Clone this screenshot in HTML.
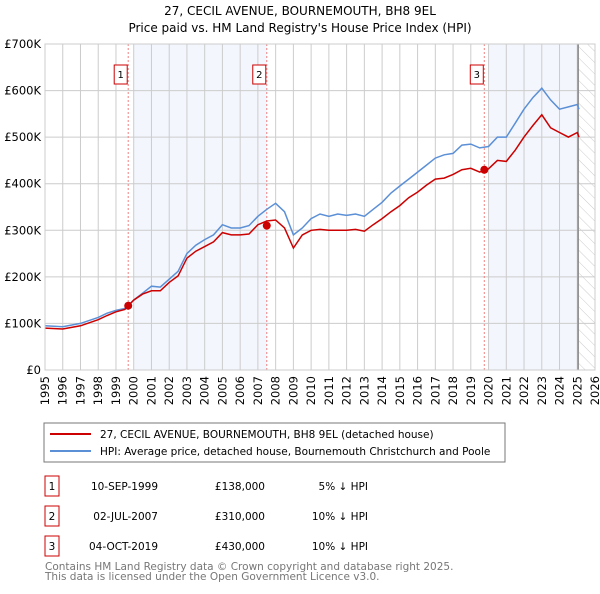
<!DOCTYPE html>
<html><head><meta charset="utf-8"><style>
body{margin:0;background:#fff;font-family:"DejaVu Sans","Liberation Sans",sans-serif;}
svg text{font-family:"DejaVu Sans","Liberation Sans",sans-serif;}
</style></head><body>
<svg id="c" width="600" height="590" xmlns="http://www.w3.org/2000/svg">
<text x="300" y="15" text-anchor="middle" font-size="12">27, CECIL AVENUE, BOURNEMOUTH, BH8 9EL</text>
<text x="300" y="32" text-anchor="middle" font-size="12">Price paid vs. HM Land Registry's House Price Index (HPI)</text>
<g id="plot"></g>
<rect x="44" y="423" width="461" height="39" fill="#fff" stroke="#777"/>
<line x1="50" y1="434" x2="91" y2="434" stroke="#cc0000" stroke-width="2"/>
<text x="100" y="438" font-size="10.5">27, CECIL AVENUE, BOURNEMOUTH, BH8 9EL (detached house)</text>
<line x1="50" y1="451" x2="91" y2="451" stroke="#5b8fd6" stroke-width="2"/>
<text x="100" y="455" font-size="10.5">HPI: Average price, detached house, Bournemouth Christchurch and Poole</text>
<g font-size="10.5" id="tbl"></g>
<text x="45" y="570" font-size="10.5" fill="#777">Contains HM Land Registry data © Crown copyright and database right 2025.</text>
<text x="45" y="580" font-size="10.5" fill="#777">This data is licensed under the Open Government Licence v3.0.</text>
</svg>
<script>
const hpiYears=[1995,1996,1997,1998,1998.5,1999,1999.5,2000,2000.5,2001,2001.5,2002,2002.5,2003,2003.5,2004,2004.5,2005,2005.5,2006,2006.5,2007,2007.5,2008,2008.5,2009,2009.5,2010,2010.5,2011,2011.5,2012,2012.5,2013,2013.5,2014,2014.5,2015,2015.5,2016,2016.5,2017,2017.5,2018,2018.5,2019,2019.5,2020,2020.5,2021,2021.5,2022,2022.5,2023,2023.5,2024,2024.5,2025,2025.1];
const hpiValues=[95,93,100,113,122,128,132,150,165,180,178,195,212,250,268,280,290,312,305,305,310,330,345,358,340,290,305,325,335,330,335,332,335,330,345,360,380,395,410,425,440,455,462,465,483,485,477,480,500,500,530,560,585,605,580,560,565,570,560];
const priceValues=[90,88,95,108,117,125,130,150,163,170,170,188,202,240,255,265,275,295,290,290,292,312,320,322,305,262,290,300,302,300,300,300,302,298,312,325,340,353,370,382,397,410,412,420,430,433,425,432,450,448,472,500,525,548,520,510,500,510,500];
const saleYears=[1999.69,2007.5,2019.76];
const salePrices=[138,310,430];
const saleLabels=["1","2","3"];
const saleDates=["10-SEP-1999","02-JUL-2007","04-OCT-2019"];
const salePriceText=["£138,000","£310,000","£430,000"];
const saleDiff=["5% ↓ HPI","10% ↓ HPI","10% ↓ HPI"];
const yTicks=[0,100,200,300,400,500,600,700];
const yTickLabels=["£0","£100K","£200K","£300K","£400K","£500K","£600K","£700K"];
const xTicks=[1995,1996,1997,1998,1999,2000,2001,2002,2003,2004,2005,2006,2007,2008,2009,2010,2011,2012,2013,2014,2015,2016,2017,2018,2019,2020,2021,2022,2023,2024,2025,2026];
const X0=45,X1=595,Y0=370,Y1=44;
const sx=y=>X0+(y-1995)*(X1-X0)/31;
const sy=v=>Y0-v*(Y0-Y1)/700;
const NS="http://www.w3.org/2000/svg";
const g=document.getElementById('plot');
function mk(t,a,p){const e=document.createElementNS(NS,t);for(const k in a)e.setAttribute(k,a[k]);(p||g).appendChild(e);return e;}
let e;
e=mk('rect',{x:X0,y:Y1,width:X1-X0,height:Y0-Y1,fill:'#fff'});


e=mk('rect',{x:sx(2000),y:Y1,width:sx(2007.5)-sx(2000),height:Y0-Y1,fill:'#f3f6fd'});


e=mk('rect',{x:sx(2020),y:Y1,width:sx(2025.05)-sx(2020),height:Y0-Y1,fill:'#f3f6fd'});


const defs=mk('defs',{});
const pat=mk('pattern',{id:'h',width:8,height:8,patternUnits:'userSpaceOnUse',patternTransform:'rotate(-45)'},defs);
mk('line',{x1:0,y1:0,x2:0,y2:8,stroke:'#ccc','stroke-width':1},pat);
e=mk('rect',{x:sx(2025.05),y:Y1,width:X1-sx(2025.05),height:Y0-Y1,fill:'url(#h)'});


yTicks.forEach((v,i)=>{
 e=mk('line',{x1:X0,x2:X1,y1:sy(v),y2:sy(v),stroke:'#ccc'});
 
 
 e=mk('text',{x:X0-4,y:sy(v)+4,'text-anchor':'end','font-size':11.5});
 e.textContent=yTickLabels[i];
 
 
});
xTicks.forEach(y=>{
 e=mk('line',{x1:sx(y),x2:sx(y),y1:Y1,y2:Y0,stroke:'#ccc'});
 
 
 e=mk('text',{x:0,y:0,'text-anchor':'end','font-size':11.5,transform:`translate(${sx(y)+4},${Y0+6}) rotate(-90)`});
 e.textContent=y;
 
 
});
e=mk('line',{x1:sx(2025.05),x2:sx(2025.05),y1:Y1,y2:Y0,stroke:'#888','stroke-width':1.5});


saleYears.forEach((y,i)=>{
 e=mk('line',{x1:sx(y),x2:sx(y),y1:Y1,y2:Y0,stroke:'#f08080','stroke-dasharray':'2,2'});
 
 
});
const pts=(v)=>hpiYears.map((y,i)=>sx(y).toFixed(1)+','+sy(v[i]).toFixed(1)).join(' ');
e=mk('polyline',{points:pts(hpiValues),fill:'none',stroke:'#5b8fd6','stroke-width':1.5});


e=mk('polyline',{points:pts(priceValues),fill:'none',stroke:'#cc0000','stroke-width':1.5});


saleYears.forEach((y,i)=>{
 e=mk('circle',{cx:sx(y),cy:sy(salePrices[i]),r:4,fill:'#cc0000'});
 
 
 e=mk('rect',{x:sx(y)-14,y:65,width:13,height:19,fill:'#fff',stroke:'#cc0000'});
 
 
 e=mk('text',{x:sx(y)-7.5,y:78,'text-anchor':'middle','font-size':10});
 e.textContent=saleLabels[i];
 
 
});
e=mk('rect',{x:X0,y:Y1,width:X1-X0,height:Y0-Y1,fill:'none',stroke:'#ccc'});


const t=document.getElementById('tbl');
const rowY=[486,516,546];
saleLabels.forEach((l,i)=>{
 const y=rowY[i];
 e=mk('rect',{x:45,y:y-10,width:14,height:20,fill:'#fff',stroke:'#cc0000'},t);
 
 
 e=mk('text',{x:52,y:y+4,'text-anchor':'middle'},t);e.textContent=l;
 
 
 e=mk('text',{x:158,y:y+4,'text-anchor':'end'},t);e.textContent=saleDates[i];
 
 
 e=mk('text',{x:265,y:y+4,'text-anchor':'end'},t);e.textContent=salePriceText[i];
 
 
 e=mk('text',{x:368,y:y+4,'text-anchor':'end'},t);e.textContent=saleDiff[i];
 
 
});
</script>
</body></html>
